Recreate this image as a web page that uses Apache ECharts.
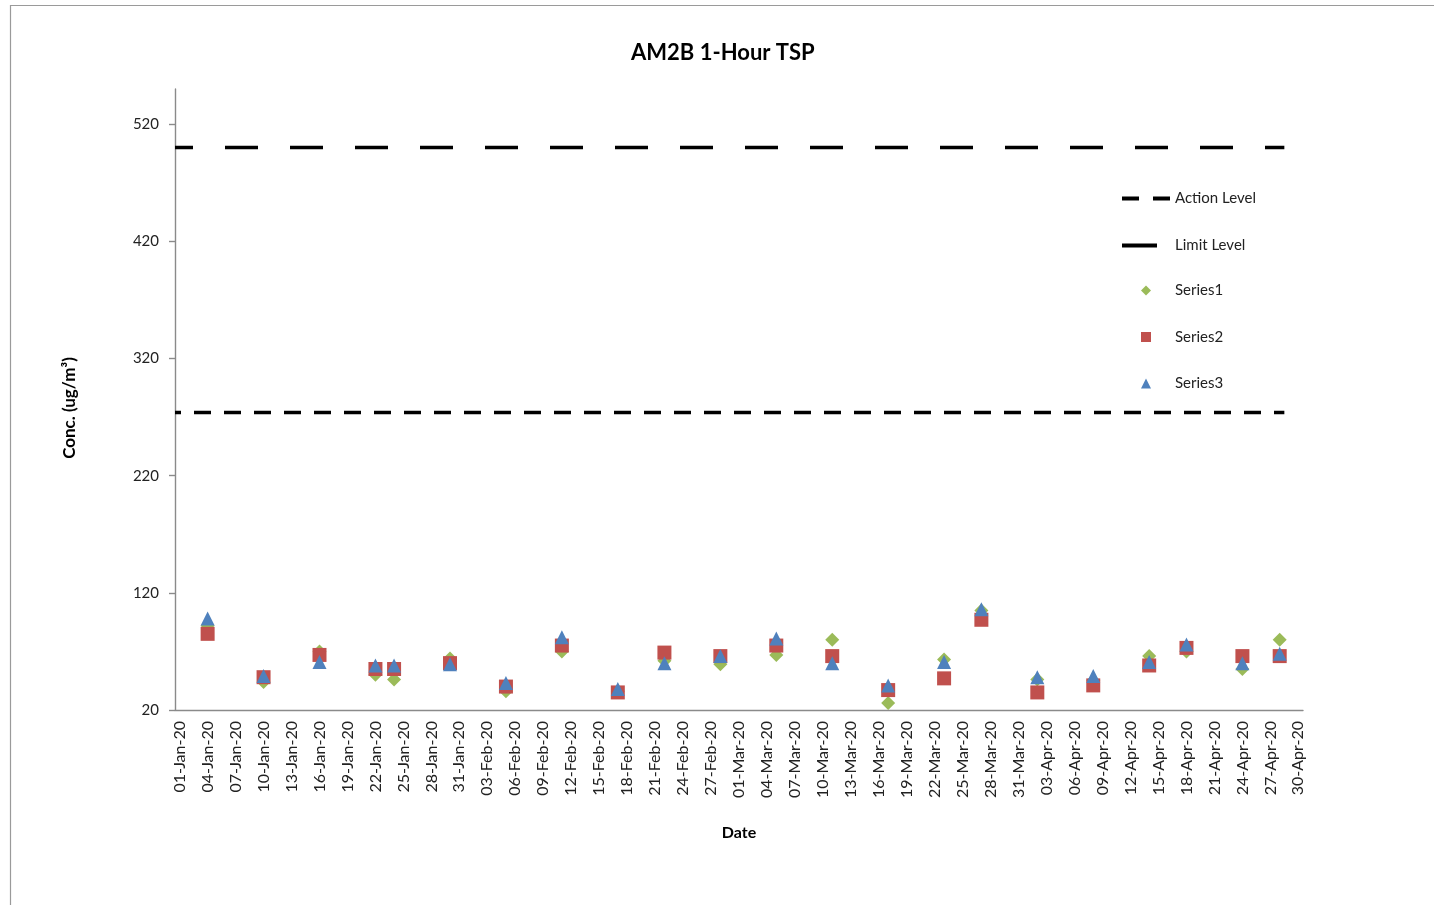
<!DOCTYPE html>
<html><head><meta charset="utf-8">
<script src="https://cdn.jsdelivr.net/npm/echarts@6/dist/echarts.min.js"></script>
<style>html,body{margin:0;padding:0;background:#fff}#c{width:1434px;height:905px}</style>
</head><body><div id="c"></div>
<script>
// ---- data ----
const DATES = ['2020-01-04','2020-01-10','2020-01-16','2020-01-22','2020-01-24','2020-01-30',
  '2020-02-05','2020-02-11','2020-02-17','2020-02-22','2020-02-28','2020-03-05','2020-03-11',
  '2020-03-17','2020-03-23','2020-03-27','2020-04-02','2020-04-08','2020-04-14','2020-04-18',
  '2020-04-24','2020-04-28'];
const SERIES1 = [92, 44, 70, 50, 46, 64, 36, 70, 36, 62, 59, 67, 80, 26, 63, 105, 46, 45, 66, 70, 55, 80];
const SERIES2 = [85, 48, 67, 55, 55, 60, 40, 75, 35, 69, 66, 75, 66, 37, 47, 97, 35, 41, 58, 73, 66, 66];
const SERIES3 = [98, 49, 61, 58, 58, 59, 43, 82, 38, 60, 66, 81, 60, 41, 61, 106, 48, 49, 61, 76, 60, 68];
const ACTION_LEVEL = 274;
const LIMIT_LEVEL = 500;
const LEVEL_END = '2020-04-28';
const AXIS_START = '2020-01-01';
const AXIS_END = '2020-04-30';
const X_TICK_LABELS = ['01-Jan-20','04-Jan-20','07-Jan-20','10-Jan-20','13-Jan-20','16-Jan-20','19-Jan-20',
  '22-Jan-20','25-Jan-20','28-Jan-20','31-Jan-20','03-Feb-20','06-Feb-20','09-Feb-20','12-Feb-20',
  '15-Feb-20','18-Feb-20','21-Feb-20','24-Feb-20','27-Feb-20','01-Mar-20','04-Mar-20','07-Mar-20',
  '10-Mar-20','13-Mar-20','16-Mar-20','19-Mar-20','22-Mar-20','25-Mar-20','28-Mar-20','31-Mar-20',
  '03-Apr-20','06-Apr-20','09-Apr-20','12-Apr-20','15-Apr-20','18-Apr-20','21-Apr-20','24-Apr-20',
  '27-Apr-20','30-Apr-20'];
const Y_TICKS = [20, 120, 220, 320, 420, 520];
const Y_MIN = 20, Y_MAX = 550;

// ---- helpers ----
const MONTHS = {Jan:0,Feb:1,Mar:2,Apr:3,May:4,Jun:5,Jul:6,Aug:7,Sep:8,Oct:9,Nov:10,Dec:11};
const BASE = Date.UTC(2020,0,1);
function dayIso(s){ const p=s.split('-'); return Math.round((Date.UTC(+p[0],+p[1]-1,+p[2])-BASE)/86400000); }
function dayLabel(s){ const p=s.split('-'); return Math.round((Date.UTC(2000+(+p[2]),MONTHS[p[1]],+p[0])-BASE)/86400000); }
const TICK_DAYS = X_TICK_LABELS.map(dayLabel);
const LABEL_BY_DAY = {};
X_TICK_LABELS.forEach((l,i)=>{ LABEL_BY_DAY[TICK_DAYS[i]] = l; });

const FONT = 'Lato';
const chart = echarts.init(document.getElementById('c'), null, {renderer:'canvas'});
const xMin = dayIso(AXIS_START) - 0.5, xMax = dayIso(AXIS_END) + 0.5;

const ICON_ACTION = 'path://M0,0h17v4h-17z M31,0h17v4h-17z';
const ICON_LIMIT = 'path://M0,0h35v4h-35z M48,0 M48,4';

chart.setOption({
  animation:false,
  backgroundColor:'#fff',
  textStyle:{fontFamily:FONT},
  title:{text:'AM2B 1-Hour TSP', left:626, top:37,
    textStyle:{fontFamily:FONT, fontSize:22, fontWeight:'bold', color:'#000'}},
  graphic:[
    {type:'rect', silent:true, shape:{x:10.5,y:5.5,width:1600,height:1000},
     style:{fill:'none', stroke:'#9a9a9a', lineWidth:1.2}},
    {type:'text', silent:true, x:70, y:408, rotation:Math.PI/2,
     style:{text:'Conc. (ug/m³)', align:'center', verticalAlign:'middle',
       font:'bold 17px Lato', fill:'#000'}}
  ],
  grid:{left:175, right:131, top:89, bottom:195, containLabel:false},
  legend:[
    {data:[{name:'Action Level', icon:ICON_ACTION, itemStyle:{color:'#000'}},
           {name:'Limit Level', icon:ICON_LIMIT, itemStyle:{color:'#000'}}],
     orient:'vertical', left:1122, top:191, padding:0,
     itemWidth:48, itemHeight:4, itemGap:32, selectedMode:false,
     textStyle:{fontFamily:FONT, fontSize:15, lineHeight:14, color:'#222'}},
    {data:[{name:'Series1', icon:'diamond'},{name:'Series2', icon:'rect'},{name:'Series3', icon:'triangle'}],
     orient:'vertical', left:1141, top:283, padding:0,
     itemWidth:10, itemHeight:10, itemGap:31.5, selectedMode:false,
     textStyle:{fontFamily:FONT, fontSize:15, lineHeight:14, color:'#222', padding:[0,0,0,19]}}
  ],
  xAxis:{type:'value', min:xMin, max:xMax,
    axisLine:{show:true, onZero:false, lineStyle:{color:'#8a8a8a', width:1.4}},
    axisTick:{show:false}, splitLine:{show:false},
    axisLabel:{customValues:TICK_DAYS, rotate:90, margin:11, fontFamily:FONT, fontSize:16, color:'#222',
      formatter:v=>LABEL_BY_DAY[Math.round(v)]||''},
    name:'Date', nameLocation:'middle', nameGap:115,
    nameTextStyle:{fontFamily:FONT, fontSize:16, fontWeight:'bold', color:'#000'}},
  yAxis:{type:'value', min:Y_MIN, max:Y_MAX,
    axisLine:{show:true, onZero:false, lineStyle:{color:'#8a8a8a', width:1.4}},
    axisTick:{show:true, length:6, customValues:Y_TICKS, lineStyle:{color:'#8a8a8a', width:1.4}},
    splitLine:{show:false},
    axisLabel:{customValues:Y_TICKS, margin:16, fontFamily:FONT, fontSize:15, color:'#222'}},
  series:[
    {type:'line', name:'Action Level', symbol:'none', silent:true, itemStyle:{color:'#000'},
     data:[[xMin, ACTION_LEVEL],[dayIso(LEVEL_END)+0.5, ACTION_LEVEL]],
     lineStyle:{color:'#000', width:3.5, type:[17,13], dashOffset:11}},
    {type:'line', name:'Limit Level', symbol:'none', silent:true, itemStyle:{color:'#000'},
     data:[[xMin, LIMIT_LEVEL],[dayIso(LEVEL_END)+0.5, LIMIT_LEVEL]],
     lineStyle:{color:'#000', width:3.5, type:[33,32], dashOffset:15}},
    {type:'scatter', name:'Series1', symbol:'diamond', symbolSize:14, itemStyle:{color:'#9BBB59', opacity:1},
     data:DATES.map((d,i)=>[dayIso(d), SERIES1[i]])},
    {type:'scatter', name:'Series2', symbol:'rect', symbolSize:14, itemStyle:{color:'#C0504D', opacity:1},
     data:DATES.map((d,i)=>[dayIso(d), SERIES2[i]])},
    {type:'scatter', name:'Series3', symbol:'triangle', symbolSize:14, itemStyle:{color:'#4F81BD', opacity:1},
     data:DATES.map((d,i)=>[dayIso(d), SERIES3[i]])}
  ]
});
</script></body></html>
